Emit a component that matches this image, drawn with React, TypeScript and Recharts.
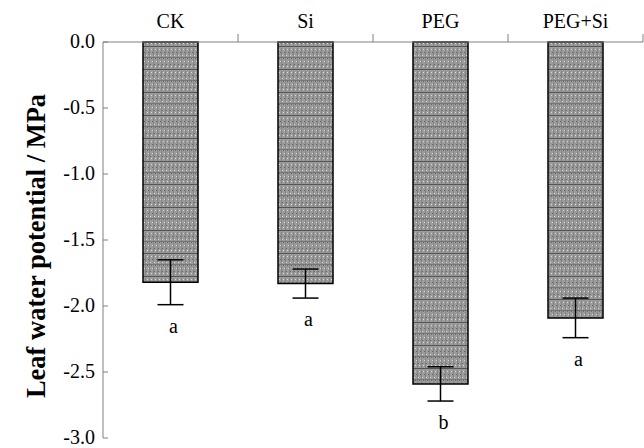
import React from "react";
import {
  BarChart,
  Bar,
  XAxis,
  YAxis,
  ErrorBar,
  LabelList,
} from "recharts";

const treatments = ["CK", "Si", "PEG", "PEG+Si"];
const potential = [-1.82, -1.83, -2.59, -2.09];
const potentialErr = [0.17, 0.11, 0.13, 0.15];
const letters = ["a", "a", "b", "a"];
const yTicks = [0, -0.5, -1, -1.5, -2, -2.5, -3];

const data = treatments.map((name, i) => ({
  name,
  value: potential[i],
  err: potentialErr[i],
  letter: letters[i],
}));

const FONT = '"Liberation Serif", "Times New Roman", serif';
const AXIS = "#808080";

// category label centred, with the tick mark on the right edge of the band
const TopTick = (props: any) => {
  const { x, y, payload, width, visibleTicksCount } = props;
  const half =
    payload.offset || (width && visibleTicksCount ? width / visibleTicksCount / 2 : 67.5);
  const axisY = y + 14;
  return (
    <g>
      <text x={x} y={y} textAnchor="middle" style={{ fontFamily: FONT }} fontSize={20} fill="#000">
        {payload.value}
      </text>
      <line x1={x + half} x2={x + half} y1={axisY - 8} y2={axisY} stroke={AXIS} />
    </g>
  );
};

// value label left of the axis, tick mark pointing inward
const LeftTick = (props: any) => {
  const { x, y, payload } = props;
  const axisX = x + 8;
  return (
    <g>
      <text x={x} y={y} dy={6} textAnchor="end" style={{ fontFamily: FONT }} fontSize={20} fill="#000">
        {payload.value.toFixed(1)}
      </text>
      <line x1={axisX} x2={axisX + 5} y1={y} y2={y} stroke={AXIS} />
    </g>
  );
};

const LetterLabel = (props: any) => {
  const { x, y, width, height, value, index } = props;
  const top = Math.min(y, y + height);
  const bottom = Math.max(y, y + height);
  const pxPerUnit = (bottom - top) / Math.abs(potential[index]);
  const errBottom = bottom + potentialErr[index] * pxPerUnit;
  return (
    <text
      x={x + width / 2 + 3}
      y={errBottom + 28}
      textAnchor="middle"
      style={{ fontFamily: FONT }}
      fontSize={20}
      fill="#000"
    >
      {value}
    </text>
  );
};

const YLabel = (props: any) => {
  const { viewBox } = props;
  const cx = 45;
  const cy = viewBox.y + viewBox.height / 2 + 6;
  return (
    <text
      x={cx}
      y={cy}
      transform={`rotate(-90, ${cx}, ${cy})`}
      textAnchor="middle"
      style={{ fontFamily: FONT }}
      fontWeight="bold"
      fontSize={26.5}
      fill="#000"
    >
      Leaf water potential / MPa
    </text>
  );
};

export default function App() {
  return (
    <div style={{ position: "absolute", left: 0, top: 0, width: 644, height: 448, background: "#fff" }}>
      <BarChart
        width={644}
        height={448}
        data={data}
        margin={{ top: 12, right: 1, left: 43, bottom: 10 }}
        barSize={55}
      >
        <defs>
          <pattern id="stipple" width="4" height="23" patternUnits="userSpaceOnUse">
            <rect width="4" height="23" fill="#9c9c9c" />
            <rect x="0" y="0" width="4" height="1" fill="#555" />
            <rect x="1" y="2" width="1" height="21" fill="#858585" />
            <rect x="3" y="3" width="1" height="1" fill="#d8d8d8" />
            <rect x="0" y="6" width="1" height="1" fill="#666" />
            <rect x="2" y="9" width="1" height="1" fill="#dcdcdc" />
            <rect x="3" y="12" width="1" height="1" fill="#666" />
            <rect x="0" y="15" width="1" height="1" fill="#d8d8d8" />
            <rect x="2" y="18" width="1" height="1" fill="#666" />
            <rect x="0" y="11" width="4" height="1" fill="#777" />
            <rect x="3" y="20" width="1" height="1" fill="#dcdcdc" />
          </pattern>
        </defs>
        <XAxis
          dataKey="name"
          orientation="top"
          height={30}
          axisLine={{ stroke: AXIS }}
          tickLine={false}
          tickSize={0}
          tickMargin={14}
          tick={<TopTick />}
          interval={0}
        />
        <YAxis
          type="number"
          domain={[-3, 0]}
          ticks={yTicks}
          width={60}
          axisLine={{ stroke: AXIS }}
          tickLine={false}
          tickSize={0}
          tickMargin={8}
          tick={<LeftTick />}
          interval={0}
          label={<YLabel />}
        />
        <Bar
          dataKey="value"
          fill="url(#stipple)"
          stroke="#000"
          strokeWidth={1.5}
          isAnimationActive={false}
        >
          <ErrorBar dataKey="err" width={13} stroke="#000" strokeWidth={1.5} direction="y" />
          <LabelList dataKey="letter" content={<LetterLabel />} />
        </Bar>
      </BarChart>
    </div>
  );
}
